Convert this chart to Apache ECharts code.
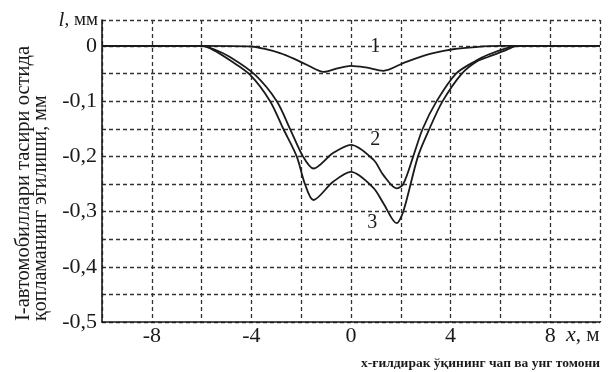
<!DOCTYPE html>
<html>
<head>
<meta charset="utf-8">
<script src="https://cdn.jsdelivr.net/npm/echarts@6/dist/echarts.min.js"></script>
<style>
  html, body { margin: 0; padding: 0; background: #fff; }
  #chart { width: 609px; height: 372px; }
</style>
</head>
<body>
<div id="chart"></div>
<script>
// x, m  ->  deflection l, mm
const x1 = [-10, -6, -4, -3.5, -2.85, -2.3, -1.78, -1.1, -0.5, 0, 0.6, 1.3, 2.1, 2.7, 3.3, 4.1, 5, 6, 10]
const l1 = [0, 0, -0.001, -0.005, -0.013, -0.023, -0.034, -0.047, -0.04, -0.036, -0.039, -0.045, -0.031, -0.021, -0.013, -0.006, -0.002, 0, 0]

const x2 = [-10, -6, -5.5, -4.86, -3.86, -2.98, -2.45, -1.93, -1.51, -0.72, 0, 0.9, 1.3, 1.83, 2.1, 2.5, 2.88, 3.44, 4.22, 5.05, 5.5, 6.25, 6.7, 10]
const l2 = [0, 0, -0.006, -0.02, -0.052, -0.1, -0.15, -0.2, -0.222, -0.194, -0.179, -0.206, -0.234, -0.258, -0.25, -0.2, -0.15, -0.1, -0.05, -0.026, -0.016, -0.004, 0, 0]

const x3 = [-10, -6, -5.5, -4.86, -4.06, -3.25, -2.72, -2.18, -1.85, -1.51, -0.72, 0, 0.9, 1.3, 1.83, 2.1, 2.69, 3.15, 3.68, 4.45, 5.05, 5.5, 6.25, 6.7, 10]
const l3 = [0, 0, -0.008, -0.026, -0.052, -0.1, -0.15, -0.2, -0.25, -0.279, -0.246, -0.228, -0.257, -0.285, -0.321, -0.3, -0.2, -0.15, -0.1, -0.05, -0.028, -0.02, -0.007, 0, 0]

const xTicks = [-8, -4, 0, 4, 8]
const yTicks = [0, -0.1, -0.2, -0.3, -0.4, -0.5]

const pair = (xs, ys) => xs.map((v, i) => [v, ys[i]])

const serif = 'Liberation Serif'
const ink = '#1a1a1a'
const grid = { type: [4, 3], color: '#333', width: 1.3 }

const lineSeries = (name, data, label, coord, offset) => ({
  name,
  type: 'line',
  data,
  smooth: 0.3,
  symbol: 'none',
  lineStyle: { color: ink, width: 1.8 },
  markPoint: {
    symbol: 'circle',
    symbolSize: 0,
    data: [{ coord, label: { show: true, formatter: label, offset } }],
    label: { color: ink, fontFamily: serif, fontSize: 20 },
  },
})

const option = {
  animation: false,
  grid: { left: 102, right: 9, top: 20, bottom: 50 },
  xAxis: {
    type: 'value',
    min: -10,
    max: 10,
    interval: 2,
    axisLine: { onZero: false, lineStyle: { color: ink, width: 1.6 } },
    axisTick: { show: false },
    splitLine: { lineStyle: grid },
    axisLabel: {
      margin: 3,
      color: ink,
      fontFamily: serif,
      fontSize: 22,
      formatter: v => (xTicks.includes(Math.round(v)) ? String(Math.round(v)) : ''),
    },
  },
  yAxis: {
    type: 'value',
    min: -0.5,
    max: 0.047,
    interval: 0.05,
    name: '{i|l}, мм',
    nameLocation: 'end',
    nameGap: 0,
    nameTextStyle: {
      align: 'right',
      verticalAlign: 'middle',
      padding: [0, 4, 0, 0],
      color: ink,
      fontFamily: serif,
      fontSize: 19,
      rich: { i: { fontStyle: 'italic', fontFamily: serif, fontSize: 21, color: ink } },
    },
    axisLine: { onZero: false, lineStyle: { color: ink, width: 1.6 } },
    axisTick: { show: false },
    splitLine: { lineStyle: grid },
    axisLabel: {
      margin: 5,
      color: ink,
      fontFamily: serif,
      fontSize: 22,
      formatter: v => {
        const t = yTicks.find(k => Math.abs(k - v) < 1e-6)
        return t === undefined ? '' : String(t).replace('.', ',')
      },
    },
  },
  series: [
    lineSeries('1', pair(x1, l1), '1', [0.97, -0.042], [0, -22]),
    lineSeries('2', pair(x2, l2), '2', [0.97, -0.205], [0, -19]),
    lineSeries('3', pair(x3, l3), '3', [0.85, -0.255], [0, 36]),
  ],
  graphic: [
    {
      type: 'text',
      x: 566,
      y: 335,
      style: {
        text: '{i|x}, м',
        fill: ink,
        font: '21px "Liberation Serif"',
        verticalAlign: 'middle',
        rich: { i: { fontStyle: 'italic', fontFamily: serif, fontSize: 22 } },
      },
    },
    {
      type: 'text',
      x: 600,
      y: 364,
      style: {
        text: 'х-ғилдирак ўқининг чап ва унг томони',
        fill: ink,
        font: 'bold 13.5px "Liberation Serif"',
        align: 'right',
        verticalAlign: 'middle',
      },
    },
    {
      type: 'text',
      x: 24,
      y: 321,
      rotation: Math.PI / 2,
      style: {
        text: 'I-автомобиллари тасири остида',
        fill: ink,
        font: '20.5px "Liberation Serif"',
        align: 'left',
        verticalAlign: 'middle',
      },
    },
    {
      type: 'text',
      x: 41,
      y: 321,
      rotation: Math.PI / 2,
      style: {
        text: 'қопламанинг эгилиши, мм',
        fill: ink,
        font: '20px "Liberation Serif"',
        align: 'left',
        verticalAlign: 'middle',
      },
    },
  ],
}

const chart = echarts.init(document.getElementById('chart'))
chart.setOption(option)
window.addEventListener('resize', () => chart.resize())
</script>
</body>
</html>
